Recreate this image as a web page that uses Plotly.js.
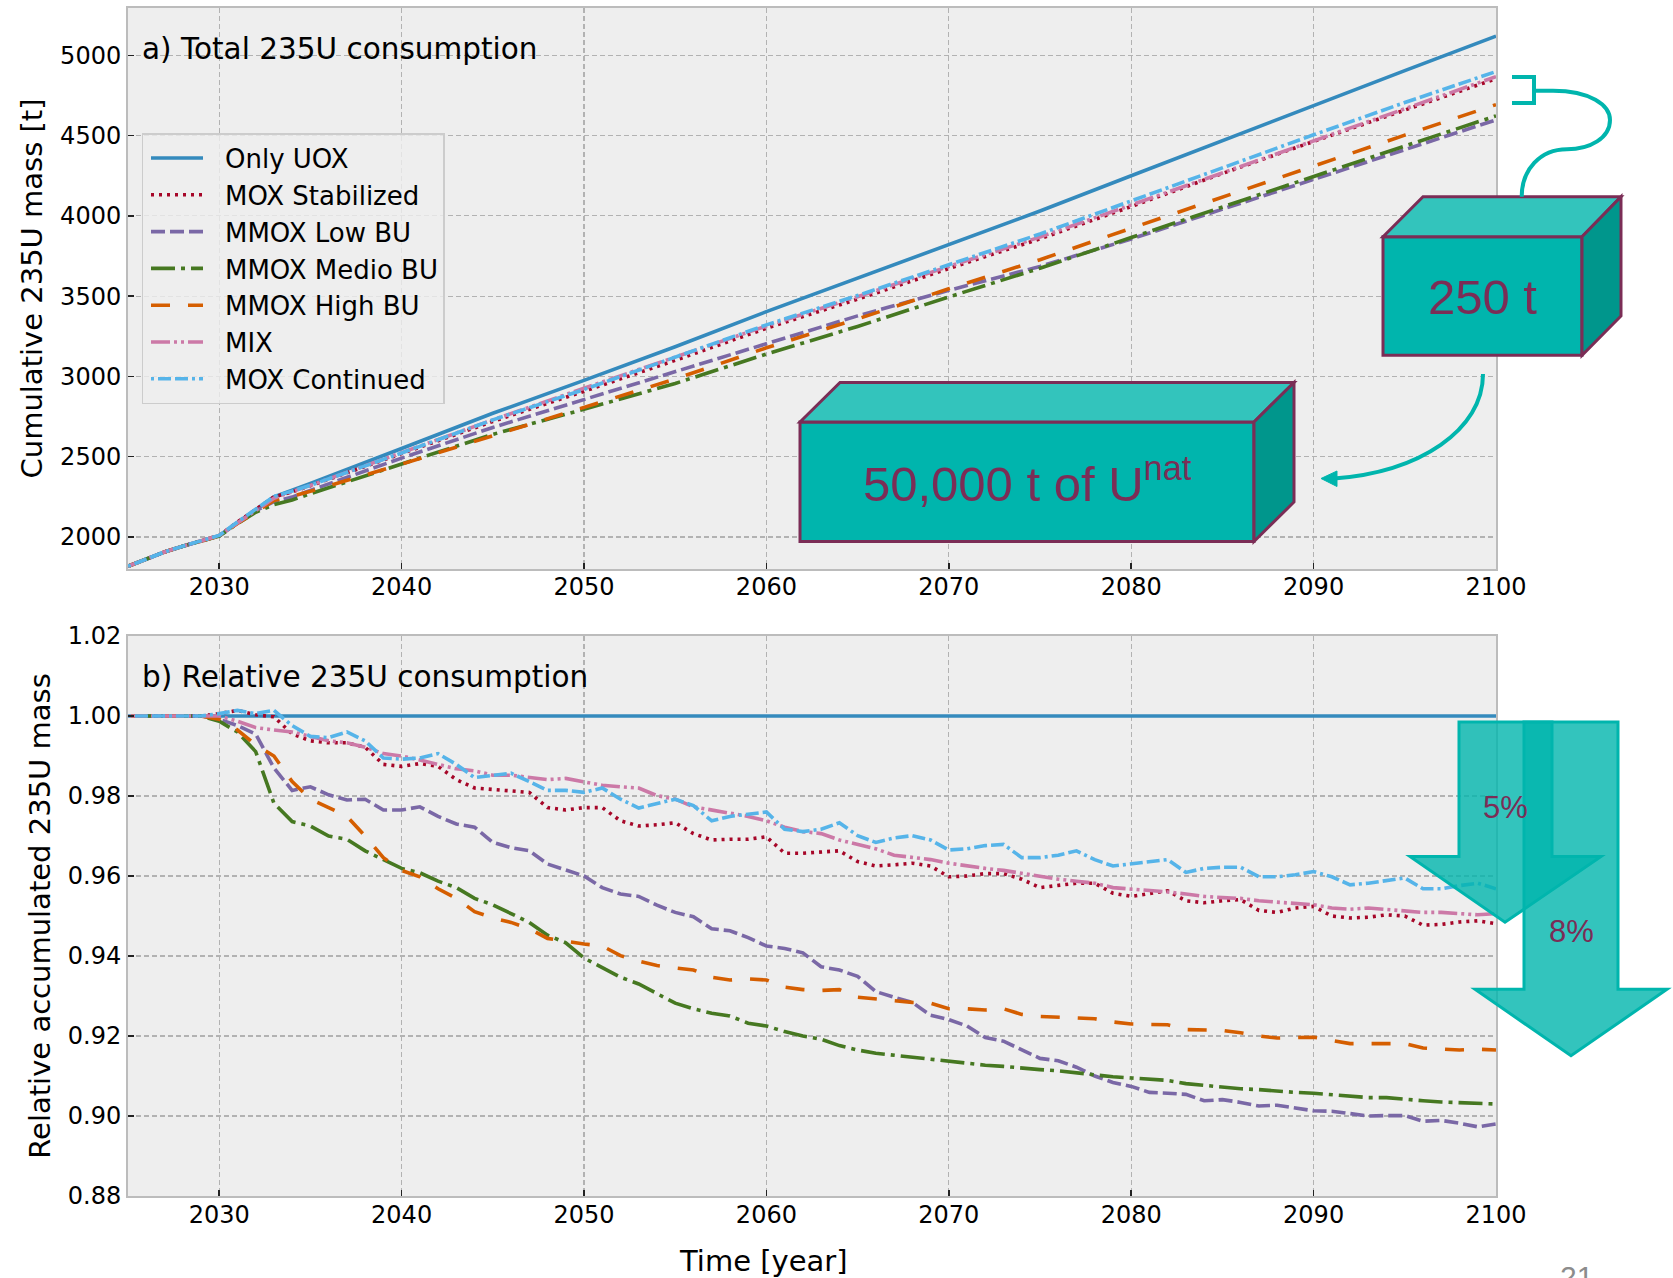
<!DOCTYPE html>
<html>
<head>
<meta charset="utf-8">
<script src="https://cdn.plot.ly/plotly-3.0.1.min.js"></script>
<style>
html,body{margin:0;padding:0;background:#fff;}
#chart{width:1673px;height:1278px;}
</style>
</head>
<body>
<div id="chart"></div>
<script>
// ---------------- DATA ----------------
const seriesNames = ["Only UOX","MOX Stabilized","MMOX Low BU","MMOX Medio BU","MMOX High BU","MIX","MOX Continued"];

// a) cumulative 235U mass [t]
const yearsAbs = [2025,2026,2027,2028,2029,2030,2031,2032,2033,2034,2035,2040,2045,2050,2055,2060,2065,2070,2075,2080,2085,2090,2095,2100];
const absOnlyUOX   = [1817,1859,1906,1942,1975,2008,2090,2172,2249,2291,2333,2551,2770,2975,3185,3403,3612,3826,4030,4250,4470,4687,4905,5120];
const absMOXStab   = [1817,1859,1906,1942,1975,2009,2093,2173,2249,2281,2319,2519,2719,2907,3100,3300,3481,3672,3857,4058,4264,4464,4660,4854];
const absMMOXLow   = [1817,1859,1906,1942,1975,2006,2085,2163,2220,2248,2290,2491,2682,2856,3029,3207,3377,3536,3685,3856,4041,4225,4415,4598];
const absMMOXMedio = [1817,1859,1906,1942,1975,2005,2082,2153,2201,2230,2269,2454,2639,2795,2956,3139,3311,3495,3674,3865,4056,4245,4435,4623];
const absMMOXHigh  = [1817,1859,1906,1942,1975,2006,2083,2156,2227,2253,2284,2453,2630,2805,2984,3178,3358,3546,3727,3923,4119,4310,4503,4693];
const absMIX       = [1817,1859,1906,1942,1975,2008,2087,2166,2241,2282,2321,2525,2729,2926,3119,3314,3496,3685,3868,4067,4267,4466,4667,4867];
const absMOXCont   = [1817,1859,1906,1942,1975,2009,2093,2173,2252,2285,2321,2523,2729,2918,3119,3321,3504,3698,3887,4093,4301,4505,4706,4899];

// b) relative accumulated 235U mass
const yearsUOXRel = [2025,2100];
const relOnlyUOX  = [1.0,1.0];
const yearsRel = [2025,2026,2027,2028,2029,2030,2031,2032,2033,2034,2035,2036,2037,2038,2039,2040,2041,2042,2043,2044,2045,2046,2047,2048,2049,
  2050,2051,2052,2053,2054,2055,2056,2057,2058,2059,2060,2061,2062,2063,2064,2065,2066,2067,2068,2069,2070,2071,2072,2073,2074,
  2075,2076,2077,2078,2079,2080,2081,2082,2083,2084,2085,2086,2087,2088,2089,2090,2091,2092,2093,2094,2095,2096,2097,2098,2099,2100];
const relMOXStab = [1,1,1,1,1,1.0006,1.0014,1.0003,0.9998,0.9955,0.9938,0.9933,0.9933,0.9922,0.9879,0.9874,0.9881,0.9874,0.9841,0.982,0.9816,0.9814,0.9809,0.9771,0.9765,
  0.9771,0.9771,0.9738,0.9725,0.9728,0.9733,0.9706,0.969,0.9692,0.9692,0.9698,0.9657,0.9657,0.9659,0.9663,0.9636,0.9625,0.9628,0.9632,0.9625,0.9598,0.96,0.9606,0.9606,0.9592,
  0.9571,0.9576,0.9582,0.9582,0.9557,0.9549,0.9557,0.9563,0.9538,0.9533,0.9538,0.9541,0.9514,0.9509,0.952,0.9524,0.95,0.9495,0.9497,0.9503,0.95,0.9477,0.9479,0.9485,0.9488,0.9481];
const relMMOXLow = [1,1,1,1,1,0.9992,0.9976,0.9955,0.987,0.9814,0.9823,0.9803,0.979,0.9792,0.9765,0.9765,0.9773,0.9749,0.973,0.9722,0.9684,0.9671,0.9663,0.963,0.9614,
  0.96,0.9571,0.9555,0.9549,0.9527,0.9509,0.9498,0.9468,0.9463,0.9446,0.9425,0.9419,0.9408,0.9373,0.9365,0.9349,0.9311,0.9297,0.9284,0.9252,0.9241,0.9225,0.9196,0.9187,0.9165,
  0.9144,0.9138,0.9122,0.91,0.9084,0.9074,0.9059,0.9057,0.9054,0.9038,0.9041,0.9034,0.9025,0.9027,0.9021,0.9013,0.9012,0.9007,0.9,0.9001,0.9001,0.8987,0.8989,0.8982,0.8973,0.898];
const relMMOXMedio = [1,1,1,1,1,0.9987,0.996,0.9911,0.9782,0.9736,0.9725,0.97,0.9692,0.9663,0.9641,0.9619,0.9608,0.9587,0.9571,0.9544,0.9528,0.9506,0.9484,0.9452,0.9433,
  0.9395,0.9371,0.9347,0.933,0.9306,0.9282,0.9268,0.9257,0.925,0.9232,0.9225,0.9211,0.92,0.9192,0.9176,0.9165,0.9157,0.9152,0.9146,0.9141,0.9135,0.9132,0.9127,0.9124,0.9119,
  0.9116,0.9113,0.9108,0.9102,0.9098,0.9095,0.9092,0.9089,0.9081,0.9076,0.9073,0.9068,0.9066,0.9062,0.9059,0.9057,0.9054,0.9051,0.9046,0.9046,0.9041,0.9038,0.9035,0.9033,0.903,0.903];
const relMMOXHigh = [1,1,1,1,1,0.9992,0.9965,0.9928,0.99,0.9836,0.9792,0.9771,0.9749,0.97,0.9646,0.9614,0.9598,0.9568,0.9544,0.9511,0.9495,0.9484,0.9468,0.9444,0.9436,
  0.943,0.9425,0.9401,0.9387,0.9376,0.937,0.9365,0.9347,0.934,0.9343,0.934,0.9322,0.9316,0.9314,0.9316,0.9297,0.9292,0.9289,0.9284,0.9282,0.9268,0.9268,0.9265,0.9268,0.9254,
  0.9249,0.9246,0.9245,0.9243,0.9235,0.923,0.923,0.9228,0.9216,0.9214,0.9214,0.9208,0.92,0.9195,0.9195,0.9197,0.9189,0.9181,0.9181,0.9181,0.9181,0.917,0.9167,0.9165,0.9167,0.9165];
const relMIX = [1,1,1,1,1,1.0,0.9987,0.9971,0.9965,0.996,0.9949,0.9938,0.9933,0.9922,0.9906,0.99,0.989,0.9879,0.9868,0.9863,0.9852,0.9852,0.9846,0.9841,0.9844,
  0.9836,0.9827,0.9823,0.982,0.9801,0.9792,0.9773,0.9765,0.9758,0.9749,0.9738,0.9722,0.9711,0.9706,0.969,0.9679,0.9668,0.9652,0.9646,0.9641,0.9632,0.9625,0.9619,0.9614,0.9606,
  0.9598,0.9592,0.9587,0.9582,0.9571,0.9568,0.9565,0.956,0.9555,0.9549,0.9546,0.9544,0.9538,0.9535,0.9531,0.9528,0.952,0.9517,0.952,0.9517,0.9514,0.9509,0.9509,0.9506,0.9503,0.9506];
const relMOXCont = [1,1,1,1,1,1.0006,1.0014,1.0006,1.0014,0.9976,0.9949,0.9946,0.996,0.9938,0.9895,0.9892,0.9895,0.9906,0.9879,0.9846,0.9852,0.9857,0.9836,0.9814,0.9814,
  0.9809,0.982,0.9792,0.977,0.9782,0.9792,0.9776,0.9738,0.9749,0.9755,0.976,0.9717,0.9711,0.9717,0.9733,0.9701,0.9684,0.9695,0.9701,0.969,0.9665,0.9668,0.9676,0.9679,0.9646,
  0.9646,0.9652,0.9663,0.9641,0.9625,0.963,0.9636,0.9641,0.9609,0.9619,0.9622,0.9622,0.9598,0.9598,0.9603,0.9611,0.9598,0.9578,0.9582,0.9589,0.9595,0.9568,0.9568,0.9576,0.9582,0.9568];

const xTickVals = [2030,2040,2050,2060,2070,2080,2090,2100];
const yTickValsAbs = [2000,2500,3000,3500,4000,4500,5000];
const yTickValsRel = [0.88,0.90,0.92,0.94,0.96,0.98,1.00,1.02];

// ---------------- STYLE ----------------
const colors = ['#348ABD','#A60628','#7A68A6','#467821','#D55E00','#CC79A7','#56B4E9'];
const dashes = ['solid','3px,5px','14px,5px','24px,6px,4px,6px','19px,18px','19px,4px,3px,4px,3px,4px','3px,4px,13px,4px,13px,4px'];
const LW = 3.6;
const FONT = 'DejaVu Sans, sans-serif';
const ARIAL = 'Liberation Sans, Arial, sans-serif';
const TEAL = '#00B5AD', TEAL_TOP = '#33C4BC', TEAL_SIDE = '#00968C', BERRY = '#7B2D56';

const absSeries = [absOnlyUOX,absMOXStab,absMMOXLow,absMMOXMedio,absMMOXHigh,absMIX,absMOXCont];
const relSeries = [relOnlyUOX,relMOXStab,relMMOXLow,relMMOXMedio,relMMOXHigh,relMIX,relMOXCont];

const traces = [];
absSeries.forEach((ys,i)=>{
  traces.push({x:yearsAbs, y:ys, type:'scatter', mode:'lines', name:seriesNames[i],
    line:{color:colors[i], width:LW, dash:dashes[i]}, xaxis:'x', yaxis:'y', showlegend:true, legendgroup:'g'+i});
});
relSeries.forEach((ys,i)=>{
  traces.push({x:(i===0?yearsUOXRel:yearsRel), y:ys, type:'scatter', mode:'lines', name:seriesNames[i],
    line:{color:colors[i], width:LW, dash:dashes[i]}, xaxis:'x2', yaxis:'y2', showlegend:false, legendgroup:'g'+i});
});

// ---------------- GEOMETRY HELPERS (pixel -> paper) ----------------
const W=1673, H=1278, PL=128, PR=1496, PT=8, PB=1196;
const fx = x => ((x-PL)/(PR-PL));
const fy = y => ((PB-y)/(PB-PT));
const pt = p => fx(p[0]).toFixed(5)+','+fy(p[1]).toFixed(5);
const poly = pts => 'M'+pts.map(pt).join(' L')+' Z';
const shapes = [];
function addPoly(pts, fill, lineColor, lw){
  shapes.push({type:'path', xref:'paper', yref:'paper', path:poly(pts), fillcolor:fill, line:{color:lineColor, width:lw}, layer:'above'});
}
function addPath(d, color, lw){
  shapes.push({type:'path', xref:'paper', yref:'paper', path:d, line:{color:color, width:lw}, fillcolor:'rgba(0,0,0,0)', layer:'above'});
}

// Big box
addPoly([[800,422],[1254,422],[1254,541.5],[800,541.5]], TEAL, BERRY, 3);
addPoly([[800,422],[840,382.5],[1294,382.5],[1254,422]], TEAL_TOP, BERRY, 3);
addPoly([[1254,422],[1294,382.5],[1294,502],[1254,541.5]], TEAL_SIDE, BERRY, 3);
// Small box
addPoly([[1383,236.7],[1582,236.7],[1582,355.3],[1383,355.3]], TEAL, BERRY, 3);
addPoly([[1383,236.7],[1423,196.7],[1621,196.7],[1582,236.7]], TEAL_TOP, BERRY, 3);
addPoly([[1582,236.7],[1621,196.7],[1621,316],[1582,355.3]], TEAL_SIDE, BERRY, 3);
// bracket + S curve
addPath('M'+pt([1512,77])+' L'+pt([1534,77])+' L'+pt([1534,103])+' L'+pt([1512,103]), TEAL, 4);
addPath('M'+pt([1534,90.7])+' L'+pt([1553,90.7])+' C'+pt([1590,90.7])+' '+pt([1610,105])+' '+pt([1610,120])+
        ' C'+pt([1610,138])+' '+pt([1590,149.3])+' '+pt([1567,149.3])+
        ' C'+pt([1540,149.3])+' '+pt([1521.7,170])+' '+pt([1521.7,196.7]), TEAL, 4);
// curved arrow
addPath('M'+pt([1483,374])+' C'+pt([1483,430])+' '+pt([1420,472])+' '+pt([1334,478.5]), TEAL, 4);
addPoly([[1321,478.5],[1337,471],[1337,486.5]], TEAL, TEAL, 1);
// down arrows
addPoly([[1459,722],[1552,722],[1552,856.6],[1601,856.6],[1505,922.3],[1410,856.6],[1459,856.6]], 'rgba(0,181,173,0.8)', TEAL, 3);
addPoly([[1524,722],[1618,722],[1618,989.3],[1667,989.3],[1571,1055.7],[1475,989.3],[1524,989.3]], 'rgba(0,181,173,0.8)', TEAL, 3);

const annotations = [
  {text:'a) Total 235U consumption', xref:'paper', yref:'paper', x:fx(140), y:fy(49), xanchor:'left', yanchor:'middle', showarrow:false, font:{family:FONT, size:29.5, color:'#000'}},
  {text:'b) Relative 235U consumption', xref:'paper', yref:'paper', x:fx(140), y:fy(677), xanchor:'left', yanchor:'middle', showarrow:false, font:{family:FONT, size:29.5, color:'#000'}},
  {text:'Time [year]', xref:'paper', yref:'paper', x:fx(763), y:fy(1261), xanchor:'center', yanchor:'middle', showarrow:false, font:{family:FONT, size:29, color:'#000'}},
  {text:'250 t', xref:'paper', yref:'paper', x:fx(1482.7), y:fy(297), xanchor:'center', yanchor:'middle', showarrow:false, font:{family:ARIAL, size:49, color:BERRY}},
  {text:'50,000 t of U<sup>nat</sup>', xref:'paper', yref:'paper', x:fx(1027), y:fy(480), xanchor:'center', yanchor:'middle', showarrow:false, font:{family:ARIAL, size:49, color:BERRY}},
  {text:'5%', xref:'paper', yref:'paper', x:fx(1505), y:fy(807), xanchor:'center', yanchor:'middle', showarrow:false, font:{family:ARIAL, size:31, color:BERRY}},
  {text:'8%', xref:'paper', yref:'paper', x:fx(1571), y:fy(931.5), xanchor:'center', yanchor:'middle', showarrow:false, font:{family:ARIAL, size:31, color:BERRY}},
  {text:'21', xref:'paper', yref:'paper', x:fx(1577), y:fy(1258), xanchor:'center', yanchor:'top', showarrow:false, font:{family:ARIAL, size:30, color:'#8c8c8c'}}
];

const axCommon = {
  showline:true, mirror:true, linecolor:'#bcbcbc', linewidth:2,
  showgrid:true, gridcolor:'#b2b2b2', gridwidth:1.2, griddash:'5px,3px',
  zeroline:false, ticks:'inside', ticklen:6, tickwidth:1.5, tickcolor:'#222',
  tickfont:{family:FONT, size:24, color:'#000'}
};

const layout = {
  width:W, height:H, paper_bgcolor:'#ffffff', plot_bgcolor:'#eeeeee',
  margin:{l:PL, r:W-PR, t:PT, b:H-PB, pad:0},
  font:{family:FONT, color:'#000'},
  showlegend:true,
  legend:{x:fx(141.7), y:fy(133.3), xanchor:'left', yanchor:'top', bgcolor:'rgba(238,238,238,0.8)',
          bordercolor:'#cccccc', borderwidth:1.3, font:{family:FONT, size:26, color:'#000'}, itemwidth:72, tracegroupgap:0},
  xaxis:Object.assign({}, axCommon, {domain:[0,1], anchor:'y', range:[2025,2100], tickvals:xTickVals, ticktext:xTickVals.map(String), ticklabelstandoff:-5}),
  yaxis:Object.assign({}, axCommon, {domain:[fy(569),1], anchor:'x', range:[1800,5295], tickvals:yTickValsAbs, ticktext:yTickValsAbs.map(String),
          title:{text:'Cumulative 235U mass [t]', font:{family:FONT, size:29, color:'#000'}, standoff:9}}),
  xaxis2:Object.assign({}, axCommon, {domain:[0,1], anchor:'y2', range:[2025,2100], tickvals:xTickVals, ticktext:xTickVals.map(String), ticklabelstandoff:-4}),
  yaxis2:Object.assign({}, axCommon, {domain:[0,fy(636)], anchor:'x2', range:[0.88,1.02], tickvals:yTickValsRel, ticktext:yTickValsRel.map(v=>v.toFixed(2)),
          title:{text:'Relative accumulated 235U mass', font:{family:FONT, size:29, color:'#000'}, standoff:9}}),
  shapes:shapes, annotations:annotations
};

Plotly.newPlot('chart', traces, layout, {displayModeBar:false, staticPlot:true}).then(gd=>{
  // shorten legend handles to match the reference (handle ~52px, text starts further right)
  gd.querySelectorAll('.legend .legendlines path').forEach(p=>p.setAttribute('d','M8,0h52'));
});
</script>
</body>
</html>
